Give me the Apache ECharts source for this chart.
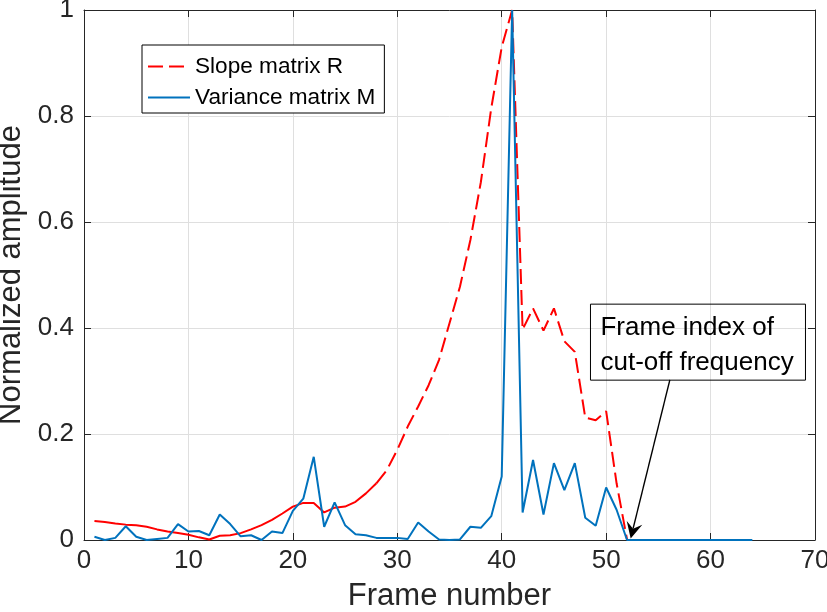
<!DOCTYPE html>
<html>
<head>
<meta charset="utf-8">
<script src="https://cdn.jsdelivr.net/npm/echarts@6/dist/echarts.min.js"></script>
<style>html,body{margin:0;padding:0;background:#fff}#c{width:827px;height:612px}</style>
</head>
<body>
<div id="c"></div>
<script>
// ---- data ----
const slopeFrames = [1,2,3,4,5,6,7,8,9,10,11,12,13,14,15,16,17,18,19,20,21,22,23,24,25,26,27,28,29,30,31,32,33,34,35,36,37,38,39,40,41,42,43,44,45,46,47,48,49,50,51,52];
const slopeR = [0.036,0.034,0.031,0.029,0.028,0.025,0.020,0.016,0.013,0.010,0.005,0.001,0.008,0.009,0.013,0.020,0.028,0.038,0.050,0.063,0.070,0.070,0.052,0.061,0.063,0.072,0.088,0.107,0.132,0.170,0.214,0.252,0.292,0.340,0.409,0.478,0.566,0.675,0.815,0.930,1.000,0.397,0.437,0.395,0.437,0.375,0.355,0.231,0.226,0.243,0.107,0.001];
const varFrames = [1,2,3,4,5,6,7,8,9,10,11,12,13,14,15,16,17,18,19,20,21,22,23,24,25,26,27,28,29,30,31,32,33,34,35,36,37,38,39,40,41,42,43,44,45,46,47,48,49,50,51,52,53,54,55,56,57,58,59,60,61,62,63,64];
const varianceM = [0.006,0.000,0.004,0.026,0.006,0.000,0.002,0.004,0.030,0.016,0.017,0.009,0.048,0.030,0.007,0.009,0.000,0.016,0.013,0.055,0.078,0.157,0.025,0.071,0.028,0.011,0.009,0.004,0.004,0.004,0.002,0.033,0.016,0.001,0.000,0.001,0.025,0.023,0.045,0.120,1.000,0.052,0.151,0.048,0.145,0.094,0.145,0.042,0.027,0.099,0.057,0.000,0,0,0,0,0,0,0,0,0,0,0,0];
const xTicks = {min:0, max:70, interval:10};
const yTicks = {min:0, max:1, interval:0.2};
const nameR = 'Slope matrix R';
const nameM = 'Variance matrix M';
const annotationText = ['Frame index of','cut-off frequency'];
const cutoffFrame = 52;
// ---------------------------------------

const FONT = '"Liberation Sans", Arial, Helvetica, sans-serif';
const AX = '#262626';
const GRID = '#DFDFDF';

const pairs = (xs, ys) => xs.map((x,i)=>[x, ys[i]]);
const redAll = pairs(slopeFrames, slopeR);
const solidEnd = 28; // short segments of the dashed line look solid
const redSolid = redAll.filter(p => p[0] <= solidEnd);
const redDashed = redAll.filter(p => p[0] >= solidEnd);

const chart = echarts.init(document.getElementById('c'), null, {renderer:'canvas'});

const baseX = {type:'value', min:xTicks.min, max:xTicks.max, interval:xTicks.interval};
const baseY = {type:'value', min:yTicks.min, max:yTicks.max, interval:yTicks.interval};

chart.setOption({
  animation:false,
  backgroundColor:'#fff',
  grid:{left:84, right:12, top:10, bottom:72, containLabel:false, outerBoundsMode:'none'},
  xAxis:[
    Object.assign({}, baseX, {
      position:'bottom',
      name:'Frame number', nameLocation:'middle', nameGap:41,
      nameTextStyle:{fontFamily:FONT, fontSize:31, color:AX},
      axisLine:{show:true, onZero:false, lineStyle:{color:AX, width:1}},
      axisTick:{show:true, inside:true, length:7, lineStyle:{color:AX}},
      axisLabel:{fontFamily:FONT, fontSize:26, color:AX, margin:8},
      splitLine:{show:true, lineStyle:{color:GRID, width:1}}
    }),
    Object.assign({}, baseX, {
      position:'top',
      axisLine:{show:true, onZero:false, lineStyle:{color:AX, width:1}},
      axisTick:{show:true, inside:true, length:7, lineStyle:{color:AX}},
      axisLabel:{show:false}, splitLine:{show:false}
    })
  ],
  yAxis:[
    Object.assign({}, baseY, {
      position:'left',
      name:'Normalized amplitude', nameLocation:'middle', nameGap:55, nameRotate:90,
      nameTextStyle:{fontFamily:FONT, fontSize:31, color:AX},
      axisLine:{show:true, onZero:false, lineStyle:{color:AX, width:1}},
      axisTick:{show:true, inside:true, length:7, lineStyle:{color:AX}},
      axisLabel:{fontFamily:FONT, fontSize:26, color:AX, margin:10},
      splitLine:{show:true, lineStyle:{color:GRID, width:1}}
    }),
    Object.assign({}, baseY, {
      position:'right',
      axisLine:{show:true, onZero:false, lineStyle:{color:AX, width:1}},
      axisTick:{show:true, inside:true, length:7, lineStyle:{color:AX}},
      axisLabel:{show:false}, splitLine:{show:false}
    })
  ],
  legend:{
    data:[nameR, nameM],
    orient:'vertical', left:142, top:45,
    padding:[10,9,4,5], itemGap:8, itemWidth:42, itemHeight:22,
    borderColor:'#000', borderWidth:1, backgroundColor:'#fff',
    itemStyle:{opacity:0},
    textStyle:{fontFamily:FONT, fontSize:22.6, color:'#000'}
  },
  series:[
    {
      name:nameR+' ', type:'line', data:redSolid, symbol:'none', smooth:false,
      lineStyle:{color:'#FF0000', width:2, type:'solid'}, itemStyle:{color:'#FF0000'}, z:2
    },
    {
      name:nameR, type:'line', data:redDashed, symbol:'none', smooth:false,
      lineStyle:{color:'#FF0000', width:2, type:[15,6]}, itemStyle:{color:'#FF0000'}, z:2
    },
    {
      name:nameM, type:'line', data:pairs(varFrames, varianceM), symbol:'none', smooth:false,
      lineStyle:{color:'#0072BD', width:2}, itemStyle:{color:'#0072BD'}, z:3
    }
  ]
});

// annotation: text box and arrow pointing to the cut-off frame
function drawAnnotation(){
  const tail = chart.convertToPixel({xAxisIndex:0, yAxisIndex:0}, [56.1, 0.302]);
  const tip = chart.convertToPixel({xAxisIndex:0, yAxisIndex:0}, [cutoffFrame + 0.35, 0.003]);
  const dx = tip[0]-tail[0], dy = tip[1]-tail[1];
  const L = Math.hypot(dx,dy), ux = dx/L, uy = dy/L, px = -uy, py = ux;
  const hl = 16, hw = 8, notch = 10;
  const b = [tip[0]-ux*hl, tip[1]-uy*hl];
  const n = [tip[0]-ux*notch, tip[1]-uy*notch];
  const boxTL = chart.convertToPixel({xAxisIndex:0, yAxisIndex:0}, [48.5, 0.445]);
  chart.setOption({
    graphic:[
      {type:'line', shape:{x1:tail[0], y1:tail[1], x2:n[0], y2:n[1]}, style:{stroke:'#000', lineWidth:1.4}, z:10},
      {type:'polygon', shape:{points:[tip, [b[0]+px*hw, b[1]+py*hw], n, [b[0]-px*hw, b[1]-py*hw]]}, style:{fill:'#000'}, z:10},
      {type:'rect', shape:{x:boxTL[0], y:boxTL[1], width:215, height:76}, style:{fill:'none', stroke:'#000', lineWidth:1}, z:10},
      {type:'text', x:boxTL[0]+10, y:boxTL[1]+6, style:{text:annotationText.join('\n'), font:'26px ' + FONT, fill:'#000', lineHeight:35, verticalAlign:'top', textAlign:'left'}, z:10}
    ]
  });
}
drawAnnotation();
</script>
</body>
</html>
